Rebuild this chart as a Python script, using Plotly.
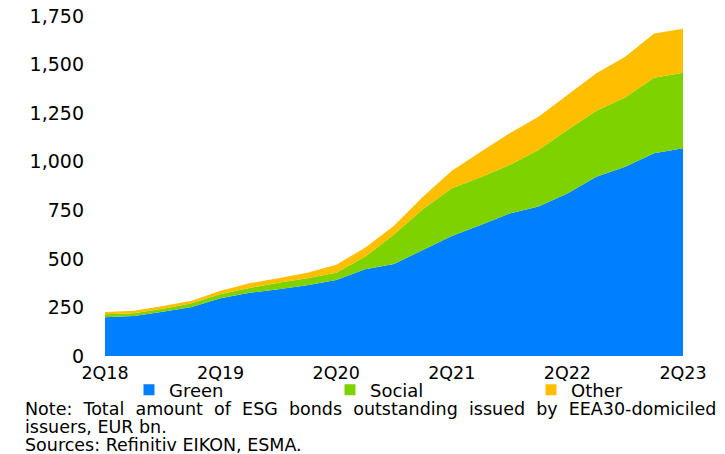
import plotly.graph_objects as go

quarters = ["2Q18", "3Q18", "4Q18", "1Q19", "2Q19", "3Q19", "4Q19", "1Q20", "2Q20",
            "3Q20", "4Q20", "1Q21", "2Q21", "3Q21", "4Q21", "1Q22", "2Q22", "3Q22",
            "4Q22", "1Q23", "2Q23"]
green = [199, 206, 228, 252, 297, 326, 343, 364, 391, 446, 473, 546, 618, 674, 734,
         770, 837, 923, 974, 1043, 1069]
social = [16, 14, 15, 19, 22, 24, 34, 36, 37, 65, 152, 209, 245, 246, 249, 290, 326,
          339, 357, 389, 389]
other = [11, 13, 14, 14, 17, 24, 23, 29, 42, 46, 45, 65, 91, 131, 163, 172, 180, 193,
         209, 228, 227]
tick_labels = ["2Q18", "2Q19", "2Q20", "2Q21", "2Q22", "2Q23"]
y_ticks = [0, 250, 500, 750, 1000, 1250, 1500, 1750]

series = [("Green", green, "#0080FF"), ("Social", social, "#7DD200"), ("Other", other, "#FFBF00")]
FONT = "DejaVu Sans"

fig = go.Figure()
for name, vals, col in series:
    fig.add_trace(go.Scatter(x=quarters, y=vals, name=name, stackgroup="one", mode="none",
                             fillcolor=col, line=dict(width=0), showlegend=False,
                             hoverinfo="x+y+name"))
for name, vals, col in series:
    fig.add_trace(go.Scatter(x=[None], y=[None], name=name, mode="markers",
                             marker=dict(symbol="square", size=11, color=col),
                             showlegend=True))

sp = "\u00a0 "
note1 = sp.join(["Note:", "Total", "amount", "of", "ESG", "bonds", "outstanding",
                 "issued", "by", "EEA30-domiciled"])

# plot area: x 105..683 px, y 16..356 px
def px_x(px):
    return (px - 105) / 578.0

def px_y(py):
    return (356 - py) / 340.0

annots = [
    dict(text=note1, x=px_x(23), y=px_y(409)),
    dict(text="issuers, EUR bn.", x=px_x(23), y=px_y(427)),
    dict(text="Sources: Refinitiv EIKON, ESMA.", x=px_x(23), y=px_y(444.5)),
]
for a in annots:
    a.update(xref="paper", yref="paper", xanchor="left", yanchor="middle",
             showarrow=False, font=dict(family=FONT, size=17.5, color="black"))

fig.update_layout(
    width=725, height=454,
    margin=dict(l=105, r=42, t=16, b=98, autoexpand=False),
    paper_bgcolor="white", plot_bgcolor="white",
    font=dict(family=FONT, color="black"),
    xaxis=dict(type="category", range=[0, 20], tickmode="array", tickvals=tick_labels,
               ticktext=tick_labels, showgrid=False, zeroline=False, showline=False,
               ticks="", tickfont=dict(family=FONT, size=17.5, color="black"),
               ticklabelstandoff=4, automargin=False),
    yaxis=dict(range=[0, 1750], tickmode="array", tickvals=y_ticks, tickformat=",d",
               showgrid=False, zeroline=False, showline=False, ticks="",
               tickfont=dict(family=FONT, size=19, color="black"),
               ticklabelstandoff=20, automargin=False),
    legend=dict(orientation="h", x=px_x(732), xanchor="right", y=px_y(390), yanchor="middle",
                entrywidth=156, entrywidthmode="pixels", itemwidth=30,
                traceorder="normal",
                font=dict(family=FONT, size=18, color="black"),
                bgcolor="rgba(0,0,0,0)", tracegroupgap=0),
    annotations=annots,
    showlegend=True,
)

fig.write_html("out.html", config={"displayModeBar": False},
               post_script="document.body.style.margin='0';document.body.style.overflow='hidden';")
